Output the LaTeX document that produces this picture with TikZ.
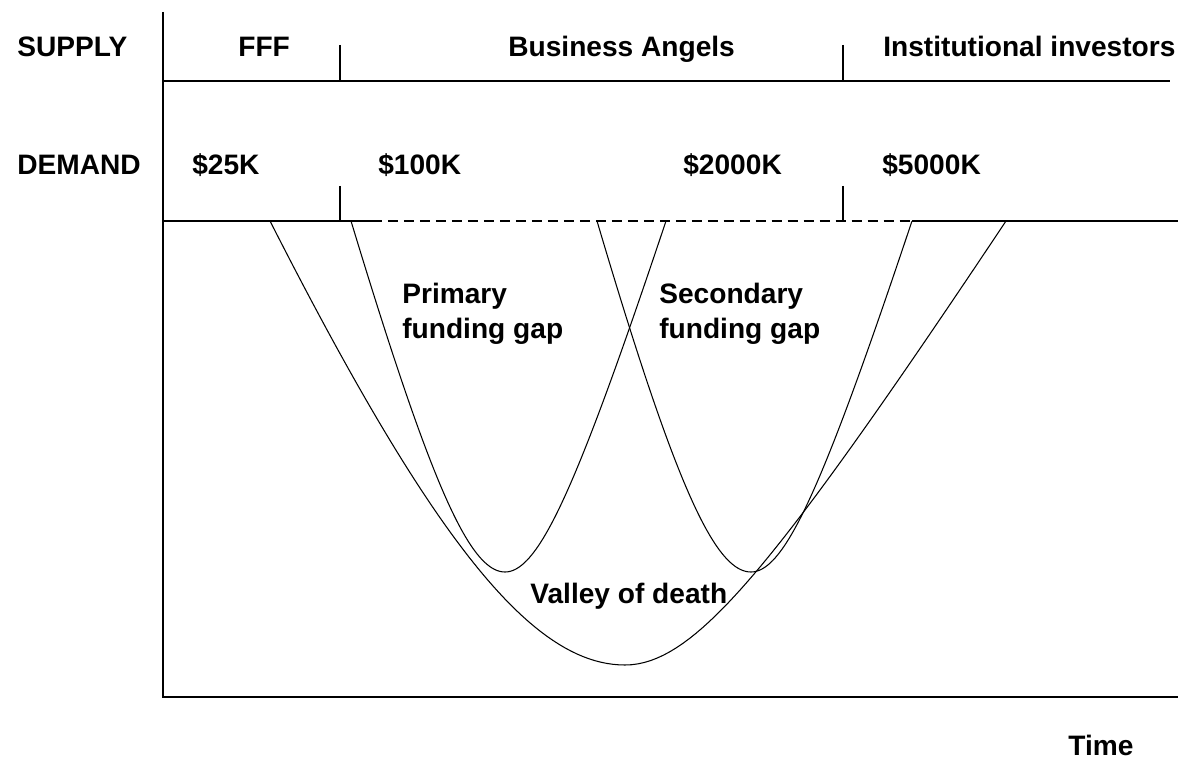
\documentclass[tikz,border=0pt]{standalone}
\usepackage{fontspec}
\setmainfont{Liberation Sans}
% one dip: start x, lowest x, end x, top y, lowest y, bend left, bend right
\newcommand{\dipcurve}[7]{%
  \draw[curve] plot[domain=1:0,samples=60]
    ({#2-\x*(#2-#1)},{#5-(#5-#4)*(sqrt(#6*#6+\x*\x)-#6)/(sqrt(#6*#6+1)-#6)})
    -- plot[domain=0:1,samples=60]
    ({#2+\x*(#3-#2)},{#5-(#5-#4)*(sqrt(#7*#7+\x*\x)-#7)/(sqrt(#7*#7+1)-#7)});}

\begin{document}
\begin{tikzpicture}[x=0.02cm,y=-0.02cm,
  lbl/.style={anchor=base west,inner sep=0pt,
    font=\bfseries\fontsize{16}{19.8}\selectfont},
  axis/.style={line width=1pt},
  curve/.style={line width=0.6pt},
  gapline/.style={line width=1pt,dash pattern=on 5.7pt off 3.4pt}]
\useasboundingbox (0,0) rectangle (1178,760);

\coordinate (top) at (163,12);
\coordinate (o) at (163,697);
\coordinate (xend) at (1178,697);
\draw[axis] (top) -- (o) -- (xend);

% supply row
\node (supply) at (17,57) [lbl] {SUPPLY};
\node (fff) at (238,57) [lbl] {FFF};
\node (angels) at (508,57) [lbl] {Business Angels};
\node (inst) at (883,57) [lbl] {Institutional investors};
\draw[axis] (163,81) -- (1170,81);
\draw[axis] (340,45) -- (340,81);
\draw[axis] (843,45) -- (843,81);

% demand row
\node (demand) at (17,175) [lbl] {DEMAND};
\node (d25) at (192,175) [lbl] {\$25K};
\node (d100) at (378,175) [lbl] {\$100K};
\node (d2000) at (683,175) [lbl] {\$2000K};
\node (d5000) at (882,175) [lbl] {\$5000K};
\draw[axis] (163,221) -- (372,221);
\draw[gapline] (372,221) -- (912,221);
\draw[axis] (912,221) -- (1178,221);
\draw[axis] (340,186) -- (340,221);
\draw[axis] (843,186) -- (843,221);

% the dips
\dipcurve{270}{625}{1006}{221}{665}{0.7}{0.3}
\dipcurve{351}{505}{666}{221}{572}{0.5}{0.4}
\dipcurve{597}{751}{912}{221}{572}{0.55}{0.4}

\node (primary) at (402,283) [lbl,anchor=north west,align=left]
  {Primary\\funding gap};
\node (secondary) at (659,283) [lbl,anchor=north west,align=left]
  {Secondary\\funding gap};
\node (valley) at (530,603) [lbl] {Valley of death};
\node (time) at (1068,755) [lbl] {Time};
\end{tikzpicture}
\end{document}
